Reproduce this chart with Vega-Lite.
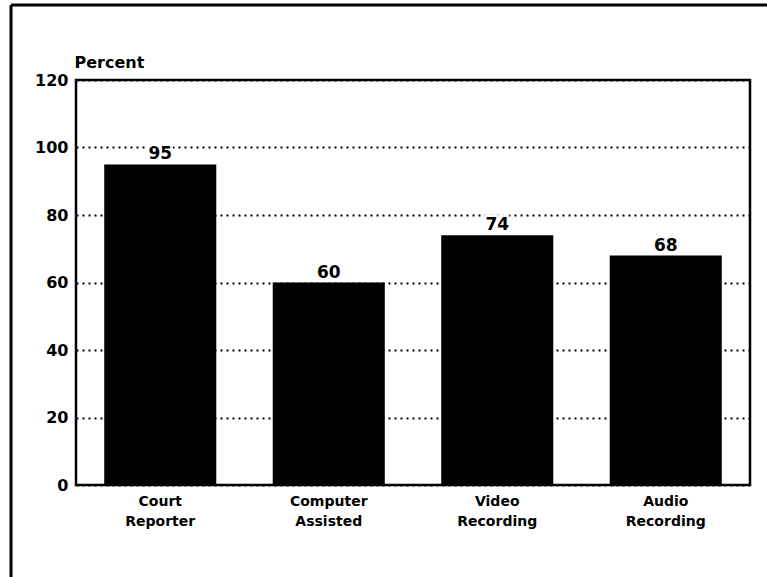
{
  "$schema": "https://vega.github.io/schema/vega-lite/v6.json",
  "autosize": "none",
  "width": 674,
  "height": 405,
  "padding": {"left": 76, "top": 80, "right": 17, "bottom": 92},
  "background": "white",
  "config": {
    "font": "DejaVu Sans",
    "view": {"stroke": "black", "strokeWidth": 2.5},
    "axis": {"labelFont": "DejaVu Sans", "labelFontWeight": "bold", "labelColor": "black", "titleFont": "DejaVu Sans", "titleFontWeight": "bold", "titleColor": "black"}
  },
  "layer": [
    {
      "data": {
        "values": [
          {"method": "Court Reporter", "percent": 95},
          {"method": "Computer Assisted", "percent": 60},
          {"method": "Video Recording", "percent": 74},
          {"method": "Audio Recording", "percent": 68}
        ]
      },
      "encoding": {
        "x": {
          "field": "method",
          "type": "nominal",
          "sort": null,
          "scale": {"paddingInner": 0.335, "paddingOuter": 0.1675},
          "axis": {
            "title": null,
            "domain": false,
            "ticks": false,
            "labelAngle": 0,
            "labelFontSize": 14,
            "labelLineHeight": 20,
            "labelBaseline": "top",
            "labelPadding": 9,
            "labelExpr": "split(datum.label, ' ')"
          }
        },
        "y": {
          "field": "percent",
          "type": "quantitative",
          "scale": {"domain": [0, 120], "nice": false},
          "axis": {
            "title": "Percent",
            "titleAngle": 0,
            "titleAlign": "left",
            "titleBaseline": "alphabetic",
            "titleX": -2,
            "titleY": -13,
            "titleFontSize": 16,
            "values": [0, 20, 40, 60, 80, 100, 120],
            "domain": false,
            "ticks": false,
            "labelFontSize": 16,
            "labelPadding": 8,
            "grid": true,
            "gridColor": "black",
            "gridWidth": 2,
            "gridDash": [2, 4],
            "gridOpacity": 1
          }
        }
      },
      "layer": [
        {"mark": {"type": "bar", "color": "black"}},
        {
          "mark": {"type": "text", "baseline": "alphabetic", "dy": -5, "fontSize": 17, "fontWeight": "bold", "font": "DejaVu Sans", "stroke": "white", "strokeWidth": 5, "fill": "white"},
          "encoding": {"text": {"field": "percent", "type": "quantitative"}}
        },
        {
          "mark": {"type": "text", "baseline": "alphabetic", "dy": -5, "fontSize": 17, "fontWeight": "bold", "font": "DejaVu Sans", "color": "black"},
          "encoding": {"text": {"field": "percent", "type": "quantitative"}}
        }
      ]
    },
    {
      "data": {"values": [{"edge": "top"}]},
      "mark": {"type": "rule", "color": "black", "strokeWidth": 3, "clip": false},
      "encoding": {
        "x": {"datum": -9.64, "type": "quantitative", "scale": {"domain": [0, 100], "nice": false, "zero": false}, "axis": null},
        "x2": {"datum": 102.6},
        "y": {"datum": 142.2, "type": "quantitative"}
      }
    },
    {
      "data": {"values": [{"edge": "left"}]},
      "mark": {"type": "rule", "color": "black", "strokeWidth": 3, "clip": false},
      "encoding": {
        "x": {"datum": -9.64, "type": "quantitative", "scale": {"domain": [0, 100], "nice": false, "zero": false}, "axis": null},
        "y": {"datum": 142.2, "type": "quantitative"},
        "y2": {"datum": -30}
      }
    }
  ],
  "resolve": {"scale": {"x": "independent"}}
}
